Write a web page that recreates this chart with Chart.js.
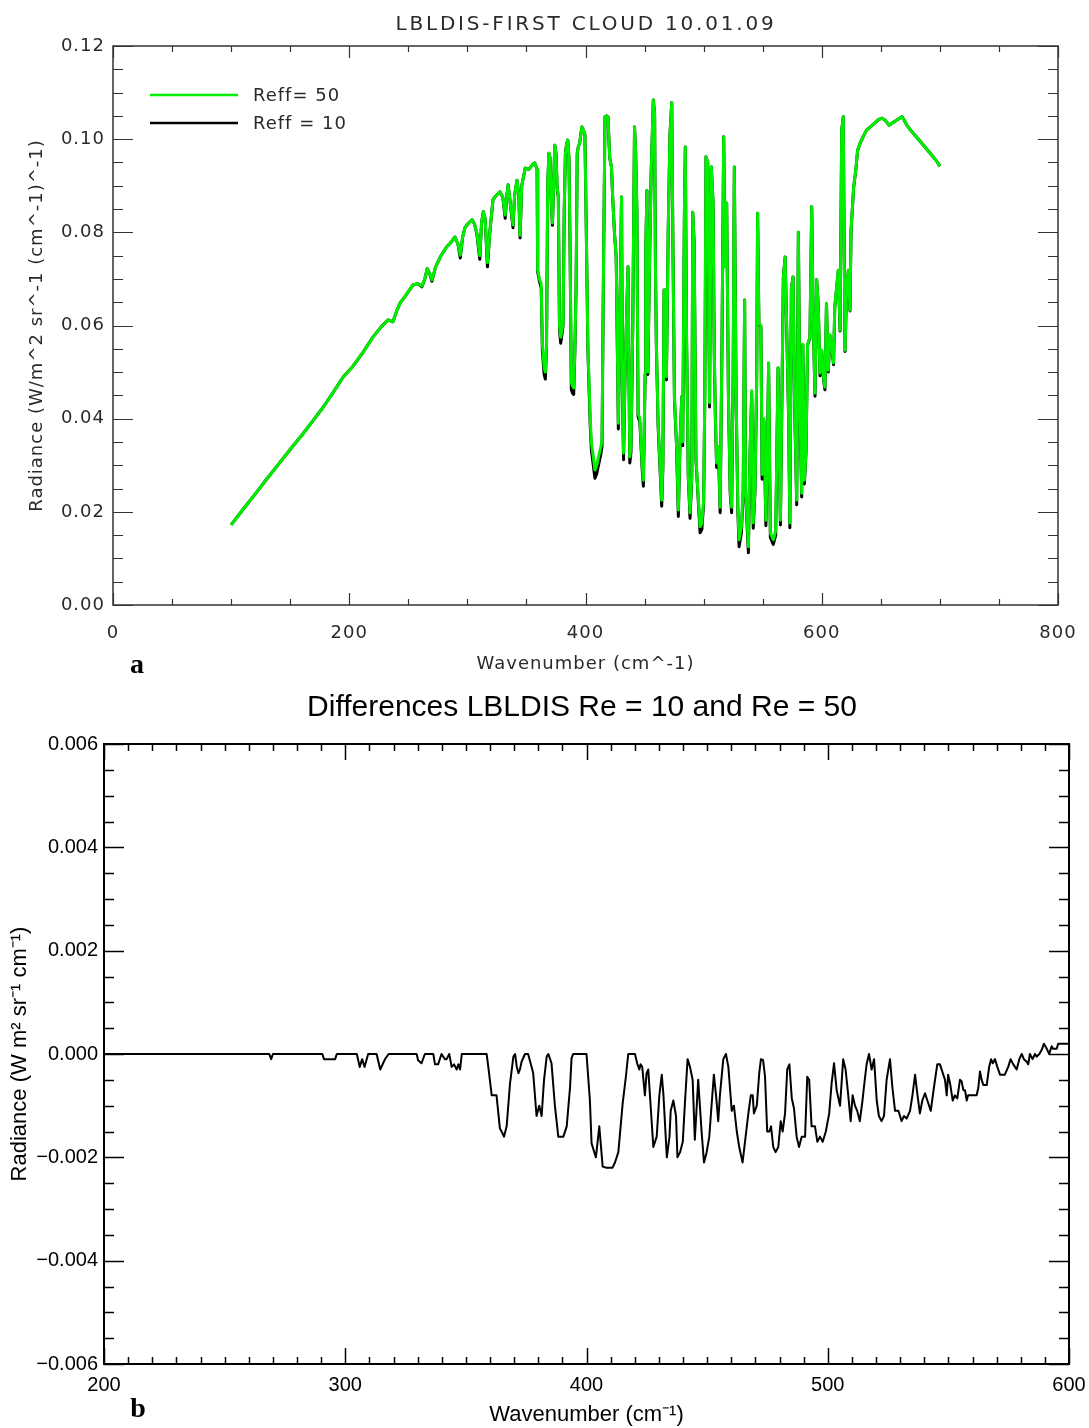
<!DOCTYPE html>
<html><head><meta charset="utf-8">
<script src="https://cdn.jsdelivr.net/npm/chart.js@4.4.0/dist/chart.umd.min.js"></script>
<style>
html,body{margin:0;padding:0;background:#fff;}
body{width:1089px;height:1428px;position:relative;overflow:hidden;}
#wrapA{position:absolute;left:0;top:0;width:1089px;height:690px;}
#wrapB{position:absolute;left:0;top:690px;width:1089px;height:738px;}
canvas{display:block;}
</style></head><body>
<div id="wrapA"><canvas id="chartA" width="1089" height="690"></canvas></div>
<div id="wrapB"><canvas id="chartB" width="1089" height="738"></canvas></div>
<script>
// ---------- Panel a data ----------
const wavenumberA = [
100,110,120,130,140,151,160,170,178,186,
195,203,211,220,227,233,237,240,243,248,
254,258,261.5,264,266,268,270,273,277,282.5,
286,289.5,292,294,296,298,301,304,306,308,
310.5,312,313.5,315,317,319,321.7,324,327.6,330,
332,333.5,334.5,336,338.6,340,342,343.5,344.6,346,
349,352,355,357,359,359.5,361,362.5,363.5,365,
366,367,368,369,370,371,372,373,374,375,
376,377,378,379,380,381,382,383,384,385,
386,387,388,389,390,391,392,393,394,395,
396,397,398,399.5,401,402,403,404,405,406.5,
408,409.5,411,413,414,415,416.5,418,419,420.5,
422,423,424.5,426,427.8,429,430.5,431.3,432.2,433.5,
435,436,437.5,438.5,440,441.5,442.5,443.5,444.5,446,
448,449,450.5,451,452,452.8,454,455.5,457.4,458.5,
459.2,460,461.5,462.5,464.5,465.5,466.5,467.5,468.5,470,
471.5,473,474,475.3,477,478.6,480,481.5,482.3,483.7,
484.5,485.5,487,488.5,490,490.8,492,493.5,495,497,
498.5,500,501,502,503.5,505,506.5,508,509,510,
511,512.5,514,515.5,517,518,519.5,521,522.5,523.7,
525,526,527.5,529,530,532,533.5,534.7,535.5,537.9,
539.3,540.7,542,543.5,544.9,545.7,546.8,548.5,549.5,551,
552.7,553.8,555,556.5,559,561,563,565,567.5,569,
570.5,572,573,574.3,575.7,577,578.8,580.2,581.5,583,
584,585.3,586.7,588,590,591.5,592.8,594.3,595.7,597,
598.5,600,601.4,602.7,604,605.5,607,608.5,610,611,
612.5,614,615.5,616.9,618.2,619,619.7,621,622.5,623.9,
624.8,626,627,628.8,630.4,632.3,635,638,641,645,
648,651,654,657,660,663,666,668,670,672,
675,680,685,690,695,698,700
];
const reff50 = [
.0172,.0205,.0237,.0270,.0302,.0337,.0365,.0398,.0425,.0455,
.0490,.0512,.0540,.0575,.0597,.0612,.0608,.0630,.0648,.0665,
.0687,.0690,.0685,.0700,.0722,.0712,.0698,.0725,.0747,.0769,
.0778,.0790,.0775,.0751,.0790,.0810,.0820,.0827,.0818,.0799,
.0750,.0820,.0844,.0830,.0735,.0800,.0870,.0878,.0887,.0875,
.0837,.0880,.0902,.0870,.0816,.0880,.0912,.0880,.0794,.0900,
.0938,.0935,.0945,.0949,.0935,.0720,.0700,.0690,.0560,.0510,
.0500,.0560,.0900,.0970,.0960,.0870,.0820,.0900,.0987,.0970,
.0897,.0880,.0600,.0575,.0590,.0605,.0850,.0970,.0990,.0998,
.0960,.0755,.0477,.0470,.0466,.0550,.0680,.0970,.0985,.0990,
.1010,.1026,.1020,.1010,.0747,.0560,.0477,.0400,.0348,.0320,
.0290,.0300,.0318,.0340,.0354,.0660,.1048,.1050,.1048,.0960,
.0940,.0876,.0800,.0747,.0390,.0600,.0876,.0460,.0326,.0500,
.0640,.0726,.0318,.0340,.0600,.1026,.0970,.0848,.0412,.0400,
.0300,.0268,.0500,.0760,.0890,.0500,.0700,.0920,.1084,.1056,
.0726,.0560,.0390,.0333,.0225,.0300,.0676,.0676,.0490,.0800,
.1010,.1078,.0777,.0447,.0350,.0204,.0350,.0447,.0350,.0833,
.0983,.0590,.0280,.0198,.0280,.0843,.0777,.0318,.0250,.0168,
.0175,.0225,.0450,.0962,.0950,.0434,.0940,.0863,.0547,.0400,
.0305,.0340,.0210,.0554,.1005,.0726,.0863,.0450,.0247,.0210,
.0498,.0940,.0450,.0210,.0140,.0168,.0250,.0655,.0247,.0125,
.0333,.0460,.0176,.0250,.0483,.0841,.0605,.0600,.0280,.0400,
.0182,.0300,.0520,.0155,.0140,.0160,.0510,.0182,.0704,.0747,
.0575,.0400,.0176,.0680,.0704,.0434,.0225,.0800,.0434,.0240,
.0560,.0268,.0333,.0560,.0575,.0855,.0605,.0455,.0698,.0648,
.0498,.0547,.0490,.0468,.0648,.0504,.0580,.0554,.0520,.0640,
.0680,.0719,.0590,.1020,.1048,.0769,.0547,.0676,.0719,.0633,
.0805,.0855,.0897,.0934,.0977,.0990,.1005,.1020,.1026,.1035,
.1042,.1045,.1040,.1030,.1035,.1040,.1045,.1048,.1040,.1030,
.1020,.1005,.0990,.0975,.0960,.0950,.0942
];
const reff10 = [
.0172,.0205,.0237,.0270,.0302,.0337,.0365,.0398,.0425,.0455,
.0490,.0512,.0540,.0575,.0597,.0612,.0608,.0630,.0648,.0665,
.0687,.0690,.0683,.0700,.0722,.0712,.0695,.0725,.0747,.0769,
.0778,.0790,.0775,.0745,.0790,.0810,.0820,.0827,.0818,.0797,
.0742,.0820,.0844,.0830,.0726,.0800,.0870,.0878,.0887,.0875,
.0830,.0880,.0902,.0870,.0810,.0880,.0912,.0880,.0788,.0900,
.0938,.0935,.0945,.0949,.0935,.0715,.0695,.0680,.0545,.0495,
.0485,.0550,.0900,.0970,.0960,.0868,.0815,.0900,.0987,.0970,
.0895,.0875,.0590,.0562,.0580,.0600,.0850,.0970,.0990,.0998,
.0960,.0750,.0462,.0455,.0452,.0545,.0680,.0970,.0985,.0990,
.1010,.1026,.1020,.1010,.0745,.0550,.0465,.0385,.0332,.0302,
.0272,.0282,.0300,.0324,.0340,.0655,.1048,.1050,.1048,.0960,
.0940,.0876,.0800,.0745,.0378,.0595,.0876,.0452,.0312,.0495,
.0640,.0726,.0305,.0328,.0595,.1026,.0970,.0848,.0405,.0392,
.0290,.0255,.0495,.0760,.0890,.0495,.0700,.0920,.1084,.1056,
.0726,.0555,.0382,.0325,.0212,.0295,.0676,.0676,.0483,.0800,
.1010,.1078,.0777,.0442,.0345,.0190,.0345,.0447,.0342,.0833,
.0983,.0585,.0275,.0186,.0275,.0843,.0777,.0312,.0245,.0155,
.0162,.0218,.0445,.0962,.0950,.0425,.0940,.0863,.0542,.0395,
.0295,.0332,.0198,.0550,.1005,.0726,.0863,.0445,.0240,.0198,
.0495,.0940,.0445,.0200,.0125,.0155,.0245,.0655,.0240,.0112,
.0328,.0455,.0165,.0245,.0480,.0841,.0605,.0598,.0270,.0395,
.0170,.0295,.0518,.0145,.0130,.0150,.0508,.0172,.0704,.0747,
.0572,.0395,.0166,.0680,.0704,.0430,.0215,.0800,.0430,.0232,
.0558,.0260,.0328,.0558,.0573,.0855,.0603,.0448,.0698,.0646,
.0492,.0545,.0486,.0462,.0646,.0500,.0578,.0552,.0516,.0638,
.0678,.0718,.0588,.1020,.1048,.0767,.0544,.0674,.0718,.0631,
.0804,.0854,.0896,.0933,.0976,.0990,.1005,.1020,.1026,.1035,
.1042,.1045,.1040,.1030,.1035,.1040,.1045,.1048,.1040,.1030,
.1020,.1005,.0990,.0975,.0960,.0950,.0942
];
const xTicksA = [0, 200, 400, 600, 800];
const yTicksA = [0, 0.02, 0.04, 0.06, 0.08, 0.10, 0.12];

// ---------- Panel b data ----------
const wavenumberB = [
200,268.5,269.3,270,290.5,291.2,295.8,296.5,304.8,306,
307,308,309.5,313,314.5,316.5,318,329.6,330.2,331.6,
333.0,336.5,337.2,338.5,339.9,341.3,342.0,343.1,344.1,345.1,
346.2,346.9,347.6,348.3,358.6,359.3,360.7,362.7,364.1,364.8,
365.8,366.9,368.3,369.7,370.4,371.1,371.8,372.4,373.1,374.5,
375.8,377.9,379.3,380.4,381.4,382.4,383.5,384.2,385.5,386.9,
388.3,390.4,391.8,393.2,393.8,394.5,400.0,401.4,402.1,403.9,
405.3,406.7,408.3,410.8,411.8,413.2,415.0,416.3,417.3,420.1,
421.0,421.9,422.4,423.1,424.2,424.9,425.6,426.3,427.7,428.4,
429.1,430.2,431.2,431.9,433.3,434.4,434.9,436.0,437.1,437.7,
438.8,439.9,440.8,441.9,442.9,444.0,444.9,446.3,447.7,448.7,
449.8,450.9,451.9,452.8,453.7,454.6,455.3,456.7,457.8,458.8,
460.2,461.1,462.3,463.3,464.7,465.7,467.1,468.1,468.9,469.4,
470.6,471.6,472.3,473.2,474.0,474.9,475.8,476.5,477.4,478.4,
479.5,480.5,481.3,482.3,483.2,484.1,485.1,486.0,487.1,488.1,
489.2,490.6,491.5,492.3,493.3,494.7,495.7,496.8,497.9,499.2,
500.6,501.6,502.6,503.7,505.1,506.4,507.4,508.5,509.5,510.3,
511.3,512.2,513.3,514.4,515.1,516.1,517.1,518.2,519.2,520.3,
521.2,522.3,523.3,524.4,525.8,526.8,527.9,529.3,530.6,531.6,
532.7,534.1,535.1,536.2,537.1,538.2,539.2,540.3,541.3,542.7,
544.0,545.4,546.5,547.9,548.6,549.3,549.9,550.7,551.8,552.7,
553.7,554.8,555.5,556.2,556.9,557.6,558.2,558.9,560.3,561.7,
562.4,563.1,563.8,564.5,565.9,566.9,567.7,568.4,569.3,570.3,
571.4,573.4,574.8,575.8,576.9,578.3,579.4,580.4,581.3,582.5,
583.1,583.8,584.9,585.9,586.6,587.7,588.7,589.6,590.8,591.8,
592.8,593.4,594.9,595.5,600
];
const diffRe = [
0,0,-0.0001,0,0,-0.0001,-0.0001,0,0,-0.00025,
-0.0001,-0.00025,0,0,-0.0003,-0.0001,0,0,-0.00012,-0.00018,
0,0,-0.0002,-0.0002,0,-0.0001,-0.0001,0,-0.00025,-0.0002,
-0.0003,-0.0002,-0.0003,0,0,-0.00025,-0.0008,-0.0008,-0.00144,-0.0015,
-0.0016,-0.0014,-0.00057,-0.00005,0,-0.00025,-0.00037,-0.0003,-0.00015,0,
0,-0.00037,-0.0012,-0.001,-0.0012,-0.0005,-0.00005,0,-0.00018,-0.001,
-0.0016,-0.0016,-0.0014,-0.00063,-0.00008,0,0,-0.00089,-0.00173,-0.002,
-0.0014,-0.00218,-0.0022,-0.0022,-0.0021,-0.0019,-0.00095,-0.00045,0,0,
-0.00018,-0.0003,-0.0002,-0.00025,-0.0008,-0.00037,-0.0003,-0.0008,-0.0018,-0.0017,
-0.0016,-0.0008,-0.0004,-0.0008,-0.002,-0.0016,-0.0011,-0.0009,-0.0012,-0.002,
-0.0019,-0.0017,-0.00095,-0.0001,-0.00025,-0.0005,-0.00166,-0.0005,-0.0015,-0.0021,
-0.0019,-0.0016,-0.00095,-0.0004,-0.0008,-0.0013,-0.0008,-0.0001,0,-0.00025,
-0.0011,-0.001,-0.0015,-0.0018,-0.0021,-0.0017,-0.00115,-0.0008,-0.0008,-0.00115,
-0.001,-0.00037,-0.0001,-0.00012,-0.00044,-0.0015,-0.0015,-0.0014,-0.0018,-0.0019,
-0.0018,-0.0013,-0.0015,-0.00115,-0.0003,-0.0002,-0.00086,-0.00105,-0.0016,-0.0018,
-0.0016,-0.0016,-0.00044,-0.0005,-0.0014,-0.0014,-0.0017,-0.0016,-0.0017,-0.0015,
-0.00115,-0.00057,-0.00018,-0.0007,-0.001,-0.0001,-0.0003,-0.0008,-0.0013,-0.0008,
-0.001,-0.0011,-0.0013,-0.0009,-0.0006,-0.0002,0,-0.0003,-0.0001,-0.0009,
-0.0012,-0.0013,-0.0012,-0.0005,-0.0001,-0.00065,-0.0011,-0.0011,-0.0013,-0.0012,
-0.00125,-0.0011,-0.0008,-0.0004,-0.00076,-0.00115,-0.0009,-0.00076,-0.0009,-0.0011,
-0.00065,-0.0002,-0.0002,-0.0004,-0.0005,-0.0008,-0.0004,-0.00057,-0.0009,-0.0008,
-0.00086,-0.0005,-0.00053,-0.0007,-0.0007,-0.0009,-0.0008,-0.0008,-0.0008,-0.0008,
-0.00066,-0.00034,-0.0005,-0.0006,-0.0006,-0.00025,-0.0001,-0.00018,-0.0001,-0.00025,
-0.0004,-0.0004,-0.00025,-0.0001,-0.0002,-0.0003,-0.0001,0,-0.0001,-0.00015,
-0.0002,0,-0.0001,0,-0.00005,0,0.00008,0.0002,0.0001,0,
0.00015,0.0001,0.0001,0.0002,0.0002
];
const xTicksB = [200, 300, 400, 500, 600];
const yTicksB = [-0.006, -0.004, -0.002, 0, 0.002, 0.004, 0.006];

// ---------- helpers ----------
function tickFramePlugin(o) {
  return {
    id: 'tickFrame',
    afterDatasetsDraw(chart) {
      const {ctx, chartArea: a, scales: {x, y}} = chart;
      ctx.save();
      ctx.strokeStyle = o.color;
      ctx.lineWidth = o.frameWidth;
      ctx.strokeRect(a.left, a.top, a.right - a.left, a.bottom - a.top);
      ctx.lineWidth = o.tickWidth;
      ctx.beginPath();
      const nx = Math.round((x.max - x.min) / o.xMinor);
      for (let i = 0; i <= nx; i++) {
        const v = x.min + i * o.xMinor;
        const px = Math.round(x.getPixelForValue(v)) + 0.5;
        const r = v / o.xMajor;
        const len = Math.abs(r - Math.round(r)) < 1e-6 ? o.xMajorLen : o.xMinorLen;
        ctx.moveTo(px, a.bottom); ctx.lineTo(px, a.bottom - len);
        ctx.moveTo(px, a.top); ctx.lineTo(px, a.top + len);
      }
      const ny = Math.round((y.max - y.min) / o.yMinor);
      for (let i = 0; i <= ny; i++) {
        const v = y.min + i * o.yMinor;
        const py = Math.round(y.getPixelForValue(v)) + 0.5;
        const r = v / o.yMajor;
        const len = Math.abs(r - Math.round(r)) < 1e-6 ? o.yMajorLen : o.yMinorLen;
        ctx.moveTo(a.left, py); ctx.lineTo(a.left + len, py);
        ctx.moveTo(a.right, py); ctx.lineTo(a.right - len, py);
      }
      ctx.stroke();
      ctx.restore();
    }
  };
}
function fixX(h) {
  return s => { s.height = h; s.paddingLeft = 0; s.paddingRight = 0; };
}
function fixY(w) {
  return s => { s.width = w; s.paddingTop = 0; s.paddingBottom = 0; };
}

const hersheyFont = '"DejaVu Sans", sans-serif';
const helvFont = '"Liberation Sans", Arial, sans-serif';
const textGrey = '#2a2a2a';

// ---------- Chart a ----------
const decorA = {
  id: 'decorA',
  beforeDraw(chart) { chart.ctx.letterSpacing = '1px'; },
  afterDraw(chart) {
    const ctx = chart.ctx;
    ctx.save();
    ctx.fillStyle = textGrey;
    ctx.letterSpacing = '2.8px';
    ctx.font = '20px ' + hersheyFont;
    ctx.textAlign = 'center';
    ctx.textBaseline = 'middle';
    ctx.fillText('LBLDIS-FIRST CLOUD 10.01.09', 586, 25);
    // legend
    ctx.letterSpacing = '1px';
    ctx.font = '18px ' + hersheyFont;
    ctx.textAlign = 'left';
    chart.data.datasets.forEach((ds, i) => {
      const yy = 95 + i * 28;
      ctx.strokeStyle = ds.borderColor;
      ctx.lineWidth = 2.5;
      ctx.beginPath(); ctx.moveTo(150, yy); ctx.lineTo(238, yy); ctx.stroke();
      ctx.fillText(ds.label, 253, yy + 1);
    });
    // panel letter
    ctx.letterSpacing = '0px';
    ctx.fillStyle = '#000';
    ctx.font = 'bold 28px "Liberation Serif", serif';
    ctx.textAlign = 'center';
    ctx.fillText('a', 137, 666);
    ctx.restore();
  }
};

new Chart(document.getElementById('chartA'), {
  type: 'line',
  data: {
    datasets: [
      { label: 'Reff= 50', data: wavenumberA.map((w, i) => ({x: w, y: reff50[i]})),
        borderColor: '#00f000', borderWidth: 3, pointRadius: 0, tension: 0, borderJoinStyle: 'round' },
      { label: 'Reff = 10', data: wavenumberA.map((w, i) => ({x: w, y: reff10[i]})),
        borderColor: '#000000', borderWidth: 3, pointRadius: 0, tension: 0, borderJoinStyle: 'round' }
    ]
  },
  options: {
    responsive: false, animation: false, events: [],
    layout: { padding: { top: 46, right: 31, bottom: 0, left: 0 } },
    plugins: { legend: { display: false }, tooltip: { enabled: false }, title: { display: false } },
    scales: {
      x: {
        type: 'linear', min: 0, max: 800,
        afterBuildTicks: s => { s.ticks = xTicksA.map(v => ({value: v})); },
        afterFit: fixX(85),
        grid: { display: false, drawTicks: false }, border: { display: false },
        ticks: { autoSkip: false, maxRotation: 0, padding: 18, color: textGrey,
                 font: { family: hersheyFont, size: 18 }, callback: v => String(v) },
        title: { display: true, text: 'Wavenumber (cm^-1)', color: textGrey,
                 font: { family: hersheyFont, size: 18 }, padding: { top: 0, bottom: 15 } }
      },
      y: {
        type: 'linear', min: 0, max: 0.12,
        afterBuildTicks: s => { s.ticks = yTicksA.map(v => ({value: v})); },
        afterFit: fixY(113),
        grid: { display: false, drawTicks: false }, border: { display: false },
        ticks: { autoSkip: false, padding: 8, color: textGrey,
                 font: { family: hersheyFont, size: 18 }, callback: v => v.toFixed(2) },
        title: { display: true, text: 'Radiance (W/m^2 sr^-1 (cm^-1)^-1)', color: textGrey,
                 font: { family: hersheyFont, size: 18 }, padding: { top: 27, bottom: 0 } }
      }
    }
  },
  plugins: [decorA, tickFramePlugin({ color: '#333', frameWidth: 1.5, tickWidth: 1.2,
    xMinor: 50, xMajor: 200, xMajorLen: 12, xMinorLen: 6,
    yMinor: 0.005, yMajor: 0.02, yMajorLen: 20, yMinorLen: 10 })]
});

// ---------- Chart b ----------
const decorB = {
  id: 'decorB',
  afterDraw(chart) {
    const ctx = chart.ctx;
    ctx.save();
    ctx.fillStyle = '#000';
    ctx.font = '30px ' + helvFont;
    ctx.textAlign = 'center';
    ctx.textBaseline = 'middle';
    ctx.fillText('Differences LBLDIS Re = 10 and Re = 50', 582, 18);
    ctx.font = 'bold 28px "Liberation Serif", serif';
    ctx.fillText('b', 138, 720);
    ctx.restore();
  }
};

new Chart(document.getElementById('chartB'), {
  type: 'line',
  data: {
    datasets: [
      { label: 'Re=10 - Re=50', data: wavenumberB.map((w, i) => ({x: w, y: diffRe[i]})),
        borderColor: '#000', borderWidth: 2, pointRadius: 0, tension: 0, borderJoinStyle: 'round' }
    ]
  },
  options: {
    responsive: false, animation: false, events: [],
    layout: { padding: { top: 54, right: 20, bottom: 0, left: 0 } },
    plugins: { legend: { display: false }, tooltip: { enabled: false }, title: { display: false } },
    scales: {
      x: {
        type: 'linear', min: 200, max: 600,
        afterBuildTicks: s => { s.ticks = xTicksB.map(v => ({value: v})); },
        afterFit: fixX(64),
        grid: { display: false, drawTicks: false }, border: { display: false },
        ticks: { autoSkip: false, maxRotation: 0, padding: 9, color: '#000',
                 font: { family: helvFont, size: 20 }, callback: v => String(v) },
        title: { display: true, text: 'Wavenumber (cm\u207B\u00B9)', color: '#000',
                 font: { family: helvFont, size: 22 }, padding: { top: 0, bottom: 0 } }
      },
      y: {
        type: 'linear', min: -0.006, max: 0.006,
        afterBuildTicks: s => { s.ticks = yTicksB.map(v => ({value: v})); },
        afterFit: fixY(104),
        grid: { display: false, drawTicks: false }, border: { display: false },
        ticks: { autoSkip: false, padding: 6, color: '#000',
                 font: { family: helvFont, size: 20 },
                 callback: v => (Math.abs(v) < 1e-12 ? 0 : v).toFixed(3).replace('-', '\u2212') },
        title: { display: true, text: 'Radiance (W m\u00B2 sr\u207B\u00B9 cm\u207B\u00B9)', color: '#000',
                 font: { family: helvFont, size: 22 }, padding: { top: 7, bottom: 0 } }
      }
    }
  },
  plugins: [decorB, tickFramePlugin({ color: '#000', frameWidth: 2, tickWidth: 1.5,
    xMinor: 10, xMajor: 100, xMajorLen: 16, xMinorLen: 7,
    yMinor: 0.0005, yMajor: 0.002, yMajorLen: 20, yMinorLen: 10 })]
});
</script>
</body></html>
